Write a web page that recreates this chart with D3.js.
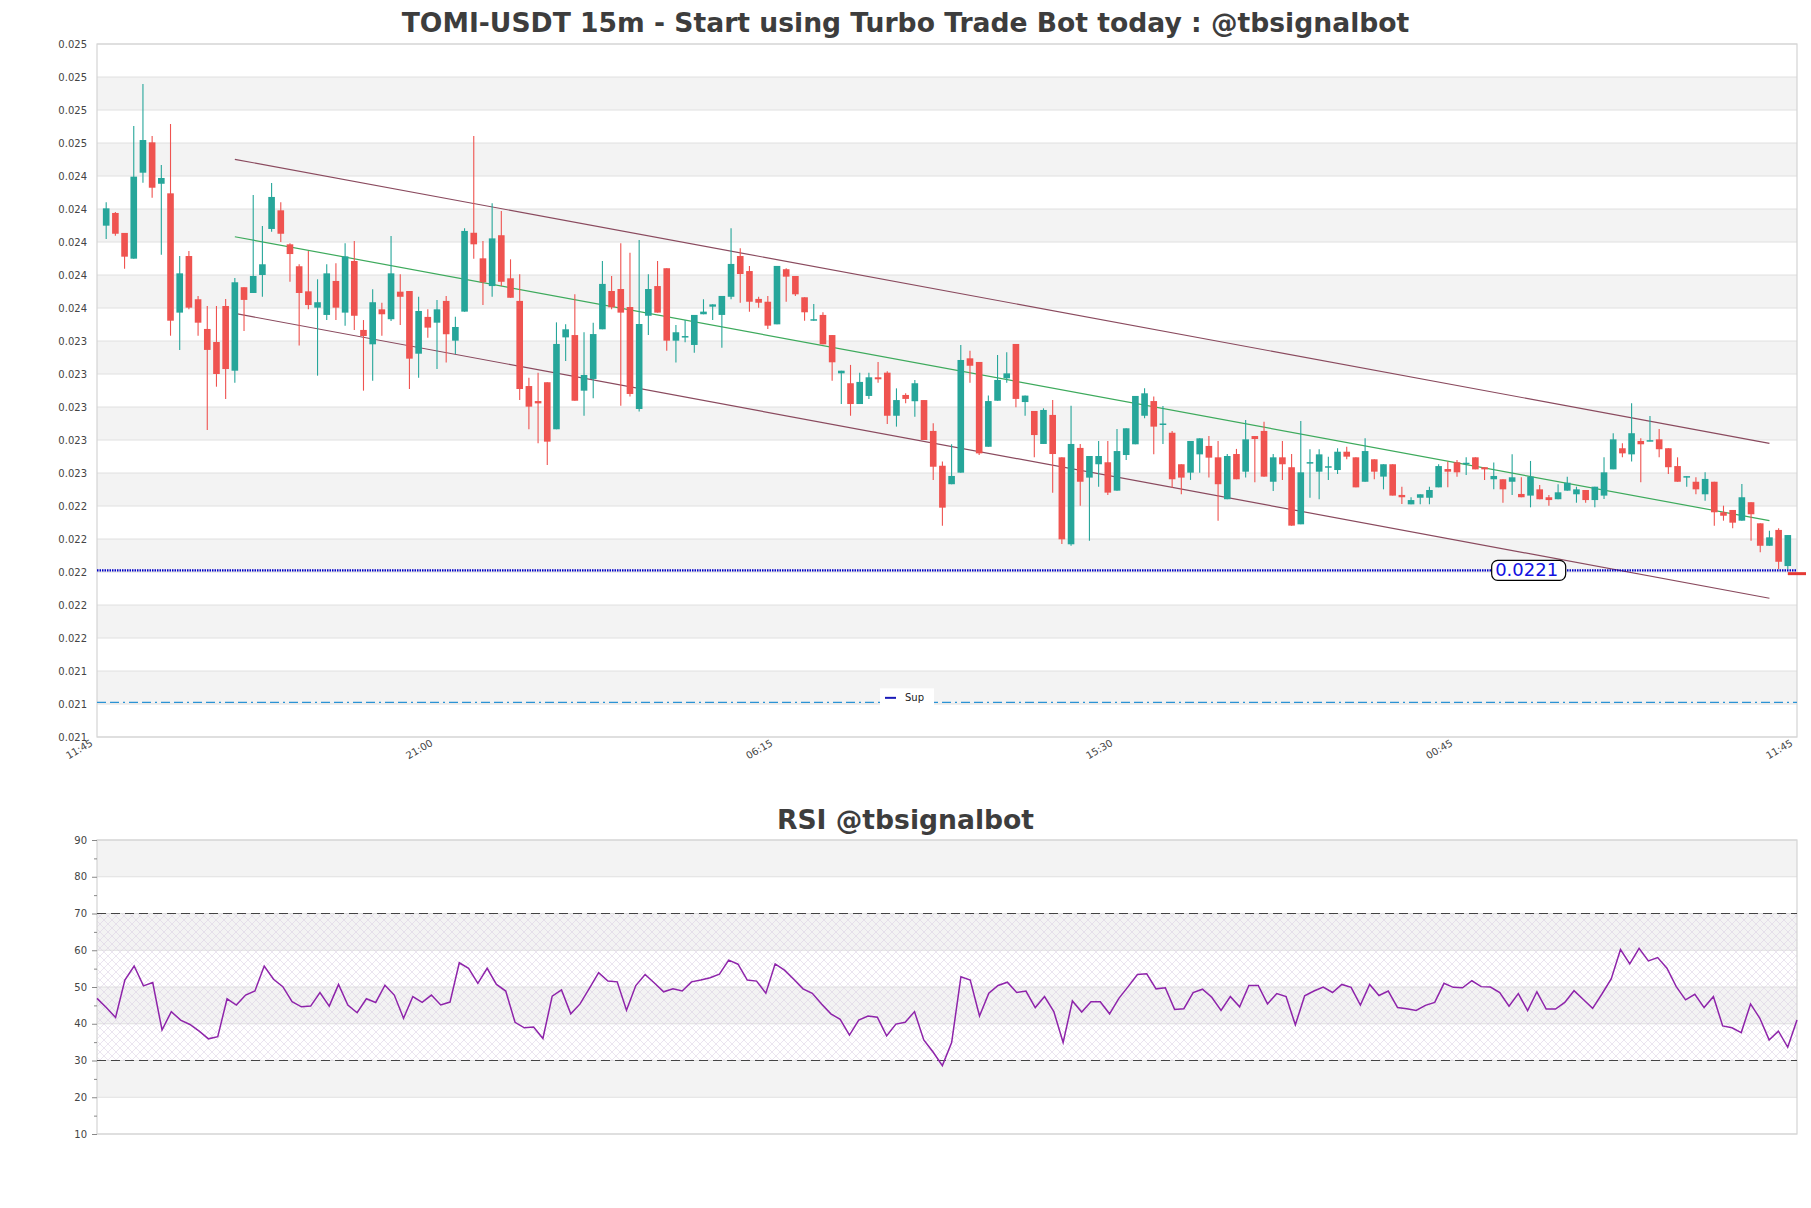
<!DOCTYPE html>
<html>
<head>
<meta charset="utf-8">
<script src="https://cdn.jsdelivr.net/npm/d3@7"></script>
<style>
  body { margin: 0; background: #fff; }
  text { font-family: "DejaVu Sans", sans-serif; }
</style>
</head>
<body>
<div class="chart"></div>
<script>
// page and plot dimensions
const svgWidth = 1811;
const svgHeight = 1208;
const margin = { left: 97, right: 14 };
const width = svgWidth - margin.left - margin.right;
const mainTop = 44;
const mainHeight = 693;
const rsiTop = 840;
const rsiHeight = 294;

// data (15m candles)
const opens = [0.024189,0.024266,0.024145,0.023989,0.024510,0.024694,0.024443,0.024385,0.023662,0.024005,
0.023743,0.023563,0.023484,0.023702,0.023310,0.023816,0.023781,0.023890,0.024169,0.024282,
0.024076,0.023943,0.023791,0.023692,0.023648,0.023854,0.023662,0.023975,0.023557,0.023470,
0.023682,0.023622,0.023789,0.023793,0.023413,0.023636,0.023601,0.023733,0.023492,0.023668,
0.024146,0.023991,0.023823,0.024131,0.023870,0.023733,0.023217,0.023126,0.023240,0.022955,
0.023512,0.023526,0.023189,0.023260,0.023561,0.023793,0.023805,0.023696,0.023078,0.023643,
0.023823,0.023931,0.023492,0.023512,0.023466,0.023652,0.023698,0.023648,0.023758,0.024005,
0.023914,0.023745,0.023728,0.023591,0.023925,0.023884,0.023755,0.023613,0.023648,0.023526,
0.023294,0.023234,0.023108,0.023157,0.023270,0.023298,0.023037,0.023163,0.023125,0.023132,
0.022945,0.022734,0.022622,0.022692,0.023385,0.023363,0.022849,0.023128,0.023264,0.023472,
0.023120,0.023066,0.022866,0.023042,0.022785,0.022258,0.022842,0.022662,0.022743,0.022755,
0.022583,0.022799,0.022864,0.023037,0.023126,0.022984,0.022934,0.022743,0.022692,0.022803,
0.022854,0.022785,0.022531,0.022805,0.022698,0.022914,0.022945,0.022637,0.022785,0.022725,
0.022379,0.022750,0.022698,0.022725,0.022708,0.022819,0.022785,0.022637,0.022773,0.022668,
0.022743,0.022557,0.022500,0.022540,0.022540,0.022603,0.022714,0.022755,0.022746,0.022785,
0.022725,0.022652,0.022652,0.022637,0.022563,0.022553,0.022591,0.022543,0.022531,0.022583,
0.022561,0.022587,0.022526,0.022553,0.022712,0.022840,0.022803,0.022884,0.022883,0.022894,
0.022840,0.022732,0.022665,0.022637,0.022561,0.022637,0.022452,0.022466,0.022401,0.022513,
0.022385,0.022249,0.022345,0.022126];
const highs = [0.024331,0.024272,0.024145,0.024793,0.025048,0.024732,0.024557,0.024805,0.024005,0.024036,
0.023763,0.023702,0.023702,0.023745,0.023872,0.023816,0.024375,0.024187,0.024448,0.024331,
0.024082,0.023955,0.024036,0.023864,0.023955,0.023961,0.024082,0.024096,0.023617,0.023803,
0.023722,0.024126,0.023894,0.023793,0.023758,0.023682,0.023739,0.023763,0.023637,0.024173,
0.024732,0.024096,0.024325,0.024278,0.023985,0.023894,0.023268,0.023298,0.023240,0.023603,
0.023591,0.023773,0.023543,0.023601,0.023975,0.023884,0.024082,0.024025,0.024102,0.023894,
0.023975,0.023931,0.023587,0.023617,0.023648,0.023743,0.023712,0.023763,0.024173,0.024052,
0.023945,0.023758,0.023763,0.023945,0.023931,0.023884,0.023755,0.023714,0.023664,0.023526,
0.023310,0.023345,0.023298,0.023298,0.023363,0.023306,0.023203,0.023173,0.023254,0.023132,
0.022991,0.022759,0.022864,0.023466,0.023431,0.023363,0.023159,0.023405,0.023422,0.023472,
0.023159,0.023066,0.023082,0.023132,0.022785,0.023098,0.022866,0.022793,0.022884,0.022884,
0.022957,0.022961,0.023157,0.023203,0.023153,0.023096,0.022945,0.022743,0.022884,0.022900,
0.022914,0.022884,0.022805,0.022836,0.023011,0.022914,0.023001,0.022805,0.022884,0.022805,
0.023005,0.022834,0.022834,0.022789,0.022840,0.022849,0.022785,0.022900,0.022773,0.022743,
0.022743,0.022607,0.022543,0.022561,0.022607,0.022743,0.022759,0.022769,0.022785,0.022785,
0.022725,0.022753,0.022652,0.022803,0.022664,0.022763,0.022617,0.022557,0.022622,0.022668,
0.022607,0.022587,0.022607,0.022785,0.022931,0.022870,0.023112,0.022900,0.023035,0.022957,
0.022840,0.022785,0.022671,0.022664,0.022694,0.022637,0.022492,0.022466,0.022623,0.022513,
0.022385,0.022340,0.022355,0.022314];
const lows = [0.024108,0.024128,0.023928,0.023989,0.024449,0.024358,0.024013,0.023522,0.023436,0.023682,
0.023522,0.022951,0.023213,0.023139,0.023237,0.023551,0.023781,0.023758,0.024152,0.024090,
0.023849,0.023462,0.023682,0.023280,0.023617,0.023617,0.023583,0.023557,0.023189,0.023249,
0.023522,0.023611,0.023587,0.023199,0.023268,0.023510,0.023320,0.023359,0.023411,0.023668,
0.023989,0.023708,0.023758,0.023823,0.023752,0.023132,0.022955,0.022870,0.022738,0.022955,
0.023369,0.023128,0.023037,0.023143,0.023561,0.023682,0.023098,0.023153,0.023062,0.023526,
0.023662,0.023431,0.023359,0.023482,0.023419,0.023652,0.023617,0.023449,0.023743,0.023722,
0.023668,0.023692,0.023563,0.023591,0.023728,0.023763,0.023613,0.023613,0.023470,0.023249,
0.023108,0.023037,0.023108,0.023139,0.023237,0.022987,0.022971,0.023112,0.023031,0.022890,
0.022648,0.022371,0.022622,0.022692,0.023237,0.022799,0.022849,0.023128,0.023237,0.023088,
0.023037,0.022785,0.022866,0.022571,0.022260,0.022249,0.022492,0.022280,0.022607,0.022557,
0.022583,0.022769,0.022864,0.023022,0.022803,0.022866,0.022601,0.022561,0.022648,0.022692,
0.022662,0.022401,0.022531,0.022652,0.022662,0.022634,0.022668,0.022581,0.022648,0.022371,
0.022379,0.022540,0.022531,0.022648,0.022684,0.022773,0.022603,0.022637,0.022652,0.022591,
0.022553,0.022502,0.022500,0.022500,0.022500,0.022603,0.022603,0.022668,0.022678,0.022712,
0.022648,0.022591,0.022510,0.022557,0.022543,0.022482,0.022531,0.022492,0.022531,0.022583,
0.022510,0.022510,0.022482,0.022532,0.022712,0.022785,0.022759,0.022634,0.022883,0.022785,
0.022684,0.022637,0.022607,0.022561,0.022522,0.022371,0.022401,0.022355,0.022401,0.022280,
0.022209,0.022249,0.022108,0.022108];
const closes = [0.024294,0.024140,0.024001,0.024486,0.024708,0.024419,0.024478,0.023613,0.023900,0.023692,
0.023601,0.023436,0.023290,0.023320,0.023846,0.023739,0.023884,0.023955,0.024363,0.024140,
0.024017,0.023781,0.023708,0.023725,0.023900,0.023692,0.024003,0.023643,0.023520,0.023725,
0.023652,0.023900,0.023758,0.023383,0.023672,0.023571,0.023682,0.023531,0.023575,0.024157,
0.024076,0.023846,0.024112,0.023849,0.023752,0.023199,0.023092,0.023112,0.022880,0.023472,
0.023561,0.023128,0.023284,0.023532,0.023836,0.023694,0.023662,0.023169,0.023593,0.023805,
0.023662,0.023492,0.023543,0.023520,0.023648,0.023668,0.023712,0.023763,0.023957,0.023896,
0.023728,0.023722,0.023583,0.023945,0.023880,0.023773,0.023664,0.023622,0.023470,0.023361,
0.023310,0.023108,0.023242,0.023270,0.023258,0.023037,0.023132,0.023139,0.023234,0.022890,
0.022728,0.022480,0.022672,0.023375,0.023340,0.022809,0.023126,0.023254,0.023294,0.023139,
0.023159,0.022920,0.023072,0.022805,0.022288,0.022866,0.022637,0.022793,0.022793,0.022571,
0.022823,0.022961,0.023157,0.023173,0.022971,0.022990,0.022652,0.022662,0.022884,0.022900,
0.022783,0.022622,0.022793,0.022652,0.022894,0.022896,0.022668,0.022785,0.022743,0.022371,
0.022694,0.022756,0.022803,0.022731,0.022819,0.022789,0.022603,0.022823,0.022698,0.022743,
0.022553,0.022543,0.022526,0.022561,0.022587,0.022732,0.022698,0.022694,0.022752,0.022712,
0.022712,0.022672,0.022591,0.022664,0.022543,0.022668,0.022531,0.022526,0.022573,0.022631,
0.022591,0.022526,0.022607,0.022694,0.022894,0.022809,0.022931,0.022864,0.022889,0.022834,
0.022725,0.022637,0.022671,0.022591,0.022654,0.022452,0.022431,0.022389,0.022543,0.022440,
0.022249,0.022300,0.022152,0.022314];

// RSI(14)
const rsiValues = [46.9,44.4,41.7,51.9,55.7,50.3,51.2,38.3,43.3,41.0,
39.8,38.0,35.9,36.5,46.8,45.1,47.8,48.9,55.7,52.1,
50.1,46.0,44.6,44.8,48.5,44.8,50.7,45.1,43.0,46.8,
45.8,50.5,47.8,41.5,47.4,45.8,47.8,45.1,45.9,56.6,
55.1,51.0,55.1,50.7,48.9,40.4,38.9,39.1,36.0,47.5,
49.2,42.7,45.4,49.6,53.9,51.6,51.4,43.7,50.4,53.4,
51.1,48.7,49.5,48.9,51.4,51.9,52.5,53.5,57.3,56.2,
51.9,51.6,48.3,56.3,54.6,52.1,49.5,48.3,45.4,42.7,
41.2,36.9,41.0,42.1,41.8,36.7,39.9,40.4,43.3,35.6,
32.3,28.6,34.9,52.8,51.9,42.1,48.3,50.4,51.3,48.5,
48.9,44.4,47.4,43.3,34.9,46.2,43.2,46.0,46.0,42.7,
46.9,50.1,53.4,53.6,49.5,49.8,43.9,44.1,48.5,49.4,
47.2,43.6,47.4,44.6,50.4,50.4,45.4,48.2,47.4,39.7,
47.6,48.9,50.0,48.5,50.7,49.9,45.1,50.7,47.7,48.9,
44.4,44.1,43.6,45.0,45.8,51.0,49.9,49.8,51.7,50.1,
50.0,48.5,44.8,48.2,43.6,48.7,44.0,44.0,45.8,49.0,
46.6,44.2,48.1,52.2,60.2,56.3,60.5,57.1,58.0,55.1,
50.1,46.5,48.0,44.4,47.4,39.4,38.9,37.6,45.4,41.5,
35.6,38.0,33.6,41.0];

// axis ticks
const priceTicks = [0.02109,0.02129,0.02149,0.02169,0.02189,0.02209,0.02229,0.02249,0.02269,0.02289,0.02309,
  0.02329,0.02349,0.02369,0.02389,0.02409,0.02429,0.02449,0.02469,0.02489,0.02509,0.02529];
const timeTickIdx = [-1, 36, 73, 110, 147, 184];
const timeTickLabels = ["11:45", "21:00", "06:15", "15:30", "00:45", "11:45"];
const rsiTicks = [10, 15, 20, 25, 30, 35, 40, 45, 50, 55, 60, 65, 70, 75, 80, 85, 90];

// channel lines (start/end candle index and price)
const channelIdx = [14, 181];
const channelUpper = [0.024591, 0.022870];
const channelMid = [0.024122, 0.022401];
const channelLower = [0.023657, 0.021931];

// levels
const lastPrice = 0.0221;
const lastMark = 0.02208;
const supLevel = 0.0213;
const rsiHigh = 70;
const rsiLow = 30;

const green = "#26a69a";
const red = "#ef5350";

// append svg
const svg = d3.select(".chart")
  .append("svg")
  .attr("width", svgWidth)
  .attr("height", svgHeight)
  .style("display", "block");

svg.append("rect").attr("width", svgWidth).attr("height", svgHeight).attr("fill", "#fff");

const defs = svg.append("defs");
const hatch = defs.append("pattern")
  .attr("id", "hatch")
  .attr("width", 8)
  .attr("height", 8)
  .attr("patternUnits", "userSpaceOnUse");
hatch.append("path")
  .attr("d", "M0,0L8,8M8,0L0,8")
  .attr("stroke", "#d6cbe0")
  .attr("stroke-width", 0.5)
  .attr("fill", "none");

// scales
const xScale = d3.scaleLinear()
  .domain([-1, 184])
  .range([margin.left, margin.left + width]);

const yScale = d3.scaleLinear()
  .domain([priceTicks[0], priceTicks[priceTicks.length - 1]])
  .range([mainTop + mainHeight, mainTop]);

const xRsi = d3.scaleLinear()
  .domain([0, rsiValues.length - 1])
  .range([margin.left, margin.left + width]);

const yRsi = d3.scaleLinear()
  .domain([10, 90])
  .range([rsiTop + rsiHeight, rsiTop]);

// ---------- main chart ----------
const main = svg.append("g");

// alternating bands
main.selectAll(".band")
  .data(d3.pairs(priceTicks).filter((p, j) => j % 2 === 1))
  .enter()
  .append("rect")
  .attr("x", margin.left)
  .attr("width", width)
  .attr("y", d => yScale(d[1]))
  .attr("height", d => yScale(d[0]) - yScale(d[1]))
  .attr("fill", "#f3f3f3");

// grid
main.selectAll(".grid")
  .data(priceTicks)
  .enter()
  .append("line")
  .attr("x1", margin.left)
  .attr("x2", margin.left + width)
  .attr("y1", d => yScale(d))
  .attr("y2", d => yScale(d))
  .attr("stroke", "#e0e0e0")
  .attr("stroke-width", 1);

main.append("rect")
  .attr("x", margin.left)
  .attr("y", mainTop)
  .attr("width", width)
  .attr("height", mainHeight)
  .attr("fill", "none")
  .attr("stroke", "#d4d4d4")
  .attr("stroke-width", 1.2);

// y axis
const yAxis = main.append("g")
  .attr("transform", `translate(${margin.left},0)`)
  .call(d3.axisLeft(yScale).tickValues(priceTicks).tickFormat(d3.format(".3f")).tickSize(0).tickPadding(10));
yAxis.select(".domain").remove();
yAxis.selectAll("text").attr("fill", "#444").style("font-size", "10px").style("font-family", "DejaVu Sans");

// x axis labels
const xAxis = main.append("g")
  .attr("transform", `translate(0,${mainTop + mainHeight})`)
  .call(d3.axisBottom(xScale).tickValues(timeTickIdx).tickFormat((d, i) => timeTickLabels[i]).tickSize(0));
xAxis.select(".domain").remove();
xAxis.selectAll("text")
  .attr("fill", "#444")
  .style("font-size", "10px")
  .style("font-family", "DejaVu Sans")
  .attr("text-anchor", "end")
  .attr("x", -4)
  .attr("y", 8)
  .attr("dy", 0)
  .attr("transform", "rotate(-30,-4,8)");

// sup level
main.append("line")
  .attr("x1", margin.left)
  .attr("x2", margin.left + width)
  .attr("y1", yScale(supLevel))
  .attr("y2", yScale(supLevel))
  .attr("stroke", "#2a93d5")
  .attr("stroke-width", 1.2)
  .attr("stroke-dasharray", "9,4,9,4,2,4");

// channel lines
const channel = [
  { v: channelUpper, color: "#8a4a5e" },
  { v: channelMid, color: "#3daa5c" },
  { v: channelLower, color: "#8a4a5e" }
];
main.selectAll(".chan")
  .data(channel)
  .enter()
  .append("line")
  .attr("x1", xScale(channelIdx[0]))
  .attr("x2", xScale(channelIdx[1]))
  .attr("y1", d => yScale(d.v[0]))
  .attr("y2", d => yScale(d.v[1]))
  .attr("stroke", d => d.color)
  .attr("stroke-width", 1.2);

// candles
const candles = opens.map((o, i) => ({ i, o, h: highs[i], l: lows[i], c: closes[i] }));
const bodyW = (xScale(1) - xScale(0)) * 0.72;

const cg = main.selectAll(".candle")
  .data(candles)
  .enter()
  .append("g");

cg.append("line")
  .attr("x1", d => xScale(d.i))
  .attr("x2", d => xScale(d.i))
  .attr("y1", d => yScale(d.h))
  .attr("y2", d => yScale(d.l))
  .attr("stroke", d => d.c >= d.o ? green : red)
  .attr("stroke-width", 1.1);

cg.append("rect")
  .attr("x", d => xScale(d.i) - bodyW / 2)
  .attr("width", bodyW)
  .attr("y", d => yScale(Math.max(d.o, d.c)))
  .attr("height", d => Math.max(1.5, Math.abs(yScale(d.o) - yScale(d.c))))
  .attr("fill", d => d.c >= d.o ? green : red);

// last price line
main.append("line")
  .attr("x1", margin.left)
  .attr("x2", margin.left + width)
  .attr("y1", yScale(lastPrice))
  .attr("y2", yScale(lastPrice))
  .attr("stroke", "#0000c8")
  .attr("stroke-width", 2.2)
  .attr("stroke-dasharray", "1.5,1");

main.append("line")
  .attr("x1", xScale(candles.length - 1))
  .attr("x2", margin.left + width + 9)
  .attr("y1", yScale(lastMark))
  .attr("y2", yScale(lastMark))
  .attr("stroke", "#e53935")
  .attr("stroke-width", 3);

const labelX = xScale(154.8);
main.append("rect")
  .attr("x", labelX - 37)
  .attr("y", yScale(lastPrice) - 10)
  .attr("width", 74)
  .attr("height", 20)
  .attr("rx", 6)
  .attr("fill", "#fff")
  .attr("stroke", "#000")
  .attr("stroke-width", 1.2);
main.append("text")
  .attr("x", labelX - 2)
  .attr("y", yScale(lastPrice) + 6)
  .attr("text-anchor", "middle")
  .attr("fill", "#1212e0")
  .style("font-size", "18px")
  .text(d3.format(".4f")(lastPrice));

// legend
const legend = main.append("g").attr("transform", `translate(880,${yScale(supLevel) - 14})`);
legend.append("rect").attr("width", 54).attr("height", 19).attr("fill", "#fff");
legend.append("line").attr("x1", 5).attr("x2", 16).attr("y1", 9.5).attr("y2", 9.5)
  .attr("stroke", "#1a1ab8").attr("stroke-width", 2);
legend.append("text").attr("x", 25).attr("y", 13).attr("fill", "#222")
  .style("font-size", "10px").text("Sup");

// title
svg.append("text")
  .attr("x", svgWidth / 2)
  .attr("y", 32)
  .attr("text-anchor", "middle")
  .attr("fill", "#3d3d3d")
  .style("font-size", "26.6px")
  .style("font-weight", "bold")
  .text("TOMI-USDT 15m - Start using Turbo Trade Bot today : @tbsignalbot");

// ---------- RSI chart ----------
const rsi = svg.append("g");
const rsiMajor = rsiTicks.filter(d => d % 10 === 0);

rsi.selectAll(".band")
  .data(d3.pairs(rsiMajor).filter((p, j) => j % 2 === 1))
  .enter()
  .append("rect")
  .attr("x", margin.left)
  .attr("width", width)
  .attr("y", d => yRsi(d[1]))
  .attr("height", d => yRsi(d[0]) - yRsi(d[1]))
  .attr("fill", "#f3f3f3");

rsi.selectAll(".grid")
  .data(rsiMajor)
  .enter()
  .append("line")
  .attr("x1", margin.left)
  .attr("x2", margin.left + width)
  .attr("y1", d => yRsi(d))
  .attr("y2", d => yRsi(d))
  .attr("stroke", "#e0e0e0");

rsi.append("rect")
  .attr("x", margin.left)
  .attr("width", width)
  .attr("y", yRsi(rsiHigh))
  .attr("height", yRsi(rsiLow) - yRsi(rsiHigh))
  .attr("fill", "url(#hatch)");

rsi.append("rect")
  .attr("x", margin.left)
  .attr("y", rsiTop)
  .attr("width", width)
  .attr("height", rsiHeight)
  .attr("fill", "none")
  .attr("stroke", "#d4d4d4")
  .attr("stroke-width", 1.2);

rsi.selectAll(".lvl")
  .data([rsiHigh, rsiLow])
  .enter()
  .append("line")
  .attr("x1", margin.left)
  .attr("x2", margin.left + width)
  .attr("y1", d => yRsi(d))
  .attr("y2", d => yRsi(d))
  .attr("stroke", "#444")
  .attr("stroke-width", 1.2)
  .attr("stroke-dasharray", "9,5");

const rsiAxis = rsi.append("g")
  .attr("transform", `translate(${margin.left},0)`)
  .call(d3.axisLeft(yRsi).tickValues(rsiTicks)
    .tickFormat(d => d % 10 === 0 ? d : "").tickSize(5).tickPadding(5));
rsiAxis.select(".domain").remove();
rsiAxis.selectAll(".tick line")
  .attr("stroke", "#888")
  .attr("x2", d => d % 10 === 0 ? -5 : -3);
rsiAxis.selectAll("text").attr("fill", "#444").style("font-size", "10px").style("font-family", "DejaVu Sans");

const rsiLine = d3.line()
  .x((d, i) => xRsi(i))
  .y(d => yRsi(d));

rsi.append("path")
  .attr("d", rsiLine(rsiValues))
  .attr("fill", "none")
  .attr("stroke", "#8e24aa")
  .attr("stroke-width", 1.5);

svg.append("text")
  .attr("x", svgWidth / 2)
  .attr("y", 829)
  .attr("text-anchor", "middle")
  .attr("fill", "#3d3d3d")
  .style("font-size", "26.6px")
  .style("font-weight", "bold")
  .text("RSI @tbsignalbot");
</script>
</body>
</html>
